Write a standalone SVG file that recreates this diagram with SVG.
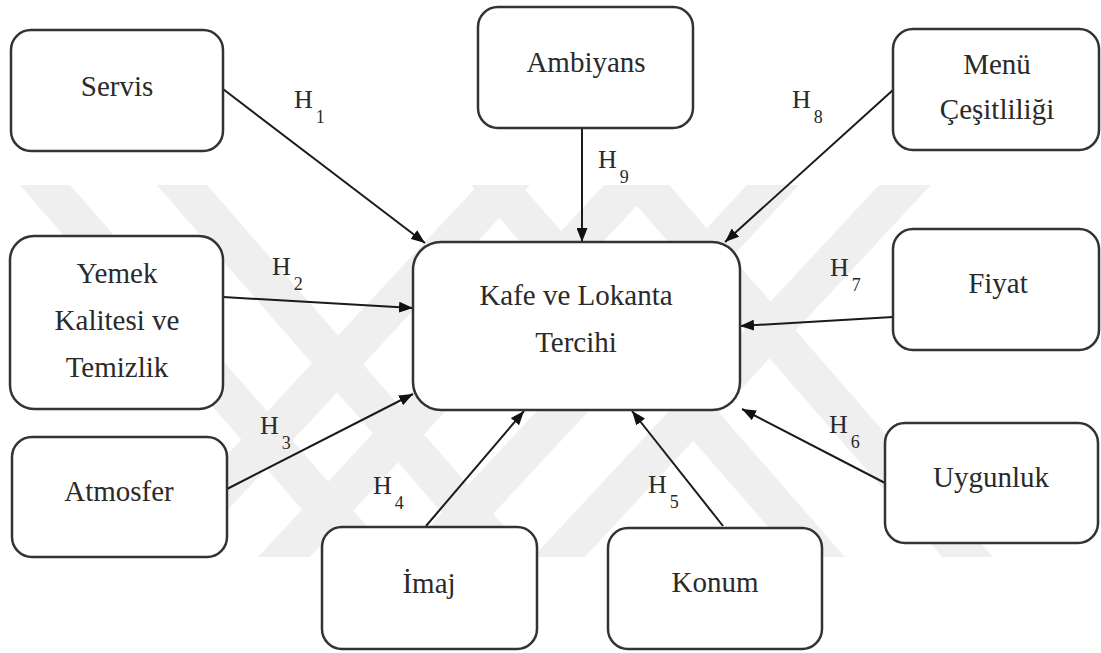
<svg xmlns="http://www.w3.org/2000/svg" width="1101" height="653" viewBox="0 0 1101 653">
<style>
.box{fill:#fff;stroke:#333;stroke-width:2.5}
.t{font-family:"Liberation Serif","Times New Roman",serif;font-size:29px;fill:#2a2a2a;text-anchor:middle}
.h{font-family:"Liberation Serif","Times New Roman",serif;font-size:26px;fill:#2a2a2a}
.s{font-size:18px}
.ln{stroke:#1a1a1a;stroke-width:2;fill:none;marker-end:url(#ah)}
.wm{stroke:#efefef;stroke-width:38;fill:none}
</style>
<defs>
<marker id="ah" markerUnits="userSpaceOnUse" markerWidth="15" markerHeight="11" refX="14" refY="5.5" orient="auto">
<path d="M0,0 L14,5.5 L0,11 z" fill="#111"/>
</marker>
<clipPath id="wmclip"><rect x="0" y="185" width="1101" height="372"/></clipPath>
</defs>
<rect width="1101" height="653" fill="#fff"/>
<g id="watermark" clip-path="url(#wmclip)">
<line class="wm" x1="536.5" y1="150" x2="118" y2="600"/>
<line class="wm" x1="662.5" y1="150" x2="244" y2="600"/>
<line class="wm" x1="805.5" y1="150" x2="387" y2="600"/>
<line class="wm" x1="937.5" y1="150" x2="519" y2="600"/>
<line class="wm" x1="14.5" y1="150" x2="406" y2="600"/>
<line class="wm" x1="151.5" y1="150" x2="543" y2="600"/>
<line class="wm" x1="465.5" y1="150" x2="857" y2="600"/>
<line class="wm" x1="613.5" y1="150" x2="1005" y2="600"/>
</g>
<g id="connectors">
<line class="ln" x1="223" y1="89" x2="425" y2="243"/>
<line class="ln" x1="582" y1="128" x2="582" y2="242"/>
<line class="ln" x1="893" y1="90" x2="725" y2="242"/>
<line class="ln" x1="223" y1="297" x2="413" y2="308"/>
<line class="ln" x1="893" y1="317" x2="740" y2="326"/>
<line class="ln" x1="227" y1="489" x2="413" y2="394"/>
<line class="ln" x1="426" y1="526" x2="524" y2="411"/>
<line class="ln" x1="723" y1="526" x2="632" y2="411"/>
<line class="ln" x1="885" y1="483" x2="742" y2="409"/>
<text class="h" x="294" y="108">H<tspan class="s" dx="3" dy="15">1</tspan></text>
<text class="h" x="598" y="168">H<tspan class="s" dx="3" dy="15">9</tspan></text>
<text class="h" x="792" y="108">H<tspan class="s" dx="3" dy="15">8</tspan></text>
<text class="h" x="272" y="275">H<tspan class="s" dx="3" dy="15">2</tspan></text>
<text class="h" x="830" y="276">H<tspan class="s" dx="3" dy="15">7</tspan></text>
<text class="h" x="260" y="434">H<tspan class="s" dx="3" dy="15">3</tspan></text>
<text class="h" x="373" y="494">H<tspan class="s" dx="3" dy="15">4</tspan></text>
<text class="h" x="648" y="493">H<tspan class="s" dx="3" dy="15">5</tspan></text>
<text class="h" x="829" y="433">H<tspan class="s" dx="3" dy="15">6</tspan></text>
</g>
<g id="servis"><rect class="box" x="11" y="30" width="212" height="121" rx="20"/><text class="t" x="117" y="96">Servis</text></g>
<g id="ambiyans"><rect class="box" x="478" y="7" width="215" height="121" rx="20"/><text class="t" x="586" y="72">Ambiyans</text></g>
<g id="menu"><rect class="box" x="893" y="29" width="206" height="121" rx="20"/><text class="t" x="997" y="74">Menü</text><text class="t" x="997" y="119">Çeşitliliği</text></g>
<g id="yemek"><rect class="box" x="10" y="236" width="213" height="173" rx="24"/><text class="t" x="117" y="283">Yemek</text><text class="t" x="117" y="330">Kalitesi ve</text><text class="t" x="117" y="377">Temizlik</text></g>
<g id="kafe"><rect class="box" x="413" y="242" width="327" height="168" rx="28"/><text class="t" x="576" y="305">Kafe ve Lokanta</text><text class="t" x="576" y="352">Tercihi</text></g>
<g id="fiyat"><rect class="box" x="893" y="229" width="206" height="121" rx="20"/><text class="t" x="998" y="293">Fiyat</text></g>
<g id="atmosfer"><rect class="box" x="12" y="437" width="215" height="120" rx="20"/><text class="t" x="119" y="501">Atmosfer</text></g>
<g id="imaj"><rect class="box" x="322" y="527" width="215" height="122" rx="20"/><text class="t" x="429" y="593">İmaj</text></g>
<g id="konum"><rect class="box" x="608" y="528" width="214" height="121" rx="20"/><text class="t" x="715" y="592">Konum</text></g>
<g id="uygunluk"><rect class="box" x="885" y="423" width="213" height="120" rx="20"/><text class="t" x="991" y="487">Uygunluk</text></g>
</svg>
